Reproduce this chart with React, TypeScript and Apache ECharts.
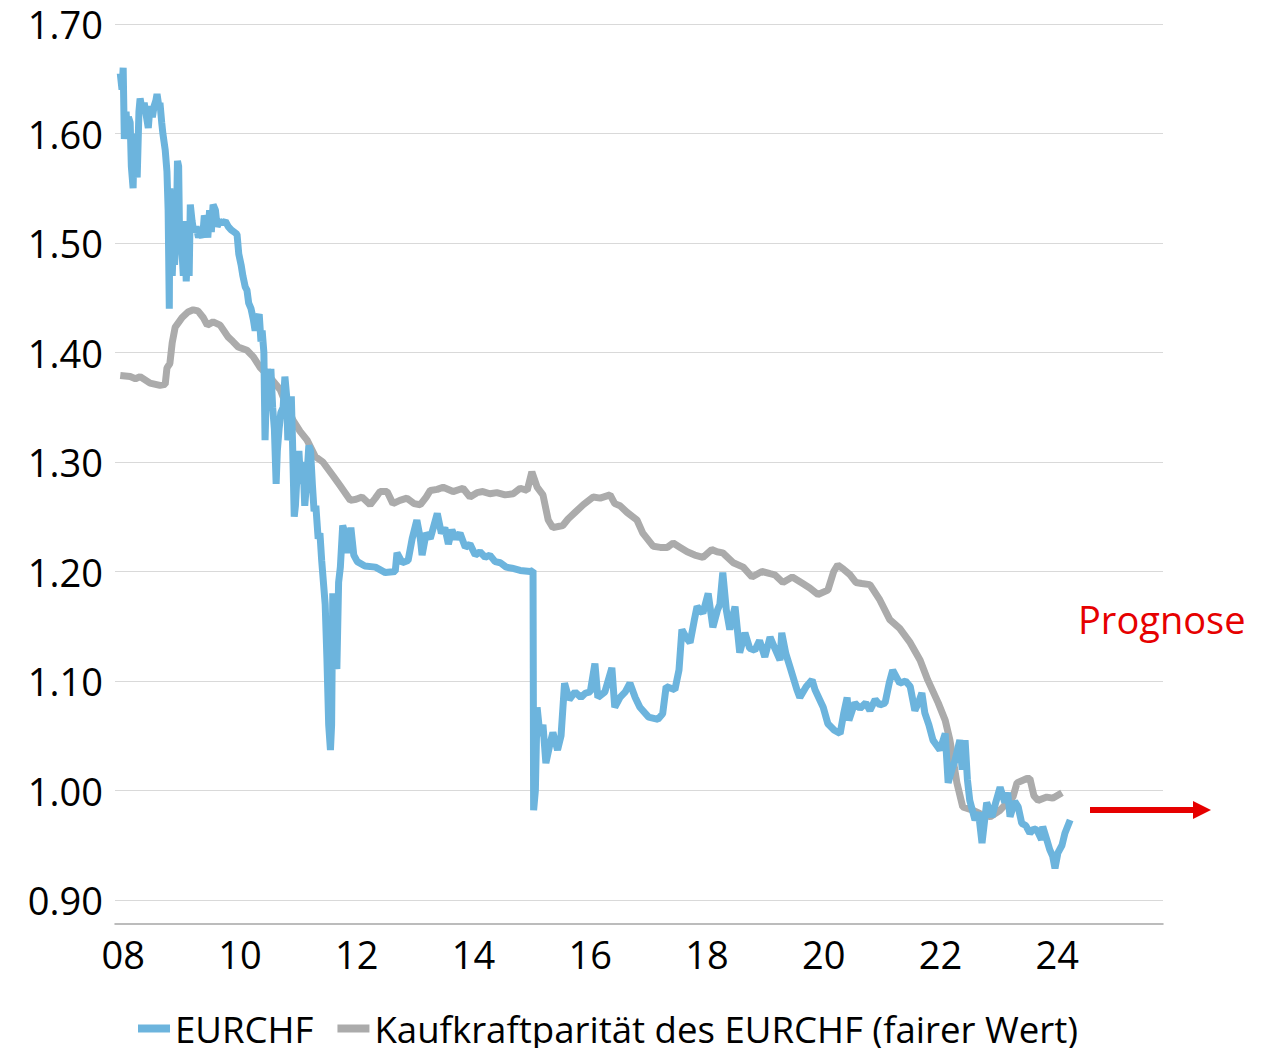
import React, { useEffect, useRef } from "react";
import * as echarts from "echarts";

// EURCHF (decimal year, rate)
const eurchf: [number, number][] = [
  [2007.95, 1.655], [2007.98, 1.64], [2008.0, 1.66], [2008.02, 1.595], [2008.05, 1.62], [2008.07, 1.6],
  [2008.09, 1.615], [2008.12, 1.61], [2008.14, 1.57], [2008.17, 1.55], [2008.19, 1.6], [2008.21, 1.575],
  [2008.24, 1.56], [2008.27, 1.62], [2008.29, 1.632], [2008.33, 1.62], [2008.36, 1.628], [2008.4, 1.615],
  [2008.43, 1.605], [2008.46, 1.625], [2008.5, 1.615], [2008.53, 1.625], [2008.56, 1.63], [2008.58, 1.636],
  [2008.61, 1.625], [2008.63, 1.628], [2008.66, 1.61], [2008.68, 1.6], [2008.72, 1.585], [2008.75, 1.565],
  [2008.77, 1.53], [2008.79, 1.44], [2008.8, 1.55], [2008.82, 1.52], [2008.84, 1.47], [2008.86, 1.5],
  [2008.88, 1.48], [2008.91, 1.51], [2008.93, 1.575], [2008.95, 1.57], [2008.97, 1.49], [2009.0, 1.5],
  [2009.03, 1.47], [2009.05, 1.52], [2009.08, 1.465], [2009.11, 1.5], [2009.13, 1.47], [2009.15, 1.535],
  [2009.18, 1.52], [2009.21, 1.51], [2009.25, 1.515], [2009.29, 1.505], [2009.32, 1.51], [2009.36, 1.505],
  [2009.39, 1.525], [2009.42, 1.52], [2009.45, 1.505], [2009.48, 1.53], [2009.51, 1.51], [2009.54, 1.535],
  [2009.58, 1.53], [2009.61, 1.515], [2009.65, 1.52], [2009.7, 1.518], [2009.75, 1.52], [2009.8, 1.515],
  [2009.85, 1.512], [2009.9, 1.51], [2009.95, 1.508], [2009.98, 1.49], [2010.02, 1.48], [2010.05, 1.47],
  [2010.09, 1.46], [2010.12, 1.457], [2010.15, 1.445], [2010.19, 1.44], [2010.23, 1.43], [2010.26, 1.42],
  [2010.3, 1.43], [2010.33, 1.435], [2010.36, 1.41], [2010.38, 1.42], [2010.41, 1.4], [2010.43, 1.32],
  [2010.45, 1.36], [2010.47, 1.385], [2010.5, 1.37], [2010.53, 1.385], [2010.56, 1.35], [2010.59, 1.33],
  [2010.62, 1.28], [2010.64, 1.31], [2010.67, 1.33], [2010.7, 1.345], [2010.74, 1.35], [2010.77, 1.378],
  [2010.8, 1.36], [2010.82, 1.32], [2010.85, 1.33], [2010.88, 1.36], [2010.9, 1.32], [2010.93, 1.25],
  [2010.95, 1.26], [2010.98, 1.29], [2011.01, 1.31], [2011.04, 1.28], [2011.08, 1.3], [2011.11, 1.26],
  [2011.14, 1.28], [2011.18, 1.315], [2011.21, 1.31], [2011.24, 1.28], [2011.27, 1.255], [2011.3, 1.26],
  [2011.34, 1.23], [2011.37, 1.235], [2011.4, 1.21], [2011.43, 1.19], [2011.46, 1.17], [2011.49, 1.12],
  [2011.52, 1.06], [2011.55, 1.037], [2011.57, 1.06], [2011.59, 1.18], [2011.61, 1.15], [2011.63, 1.12],
  [2011.66, 1.111], [2011.69, 1.19], [2011.72, 1.204], [2011.76, 1.242], [2011.8, 1.235], [2011.85, 1.217],
  [2011.9, 1.24], [2011.95, 1.215], [2012.01, 1.209], [2012.14, 1.205], [2012.32, 1.204], [2012.49, 1.199],
  [2012.66, 1.2], [2012.69, 1.217], [2012.78, 1.208], [2012.88, 1.21], [2012.95, 1.23], [2013.03, 1.247],
  [2013.09, 1.23], [2013.12, 1.215], [2013.19, 1.235], [2013.26, 1.23], [2013.38, 1.253], [2013.45, 1.235],
  [2013.51, 1.24], [2013.57, 1.225], [2013.63, 1.238], [2013.7, 1.23], [2013.77, 1.235], [2013.86, 1.222],
  [2013.94, 1.225], [2014.03, 1.215], [2014.11, 1.218], [2014.2, 1.213], [2014.28, 1.215], [2014.37, 1.209],
  [2014.46, 1.208], [2014.56, 1.204], [2014.66, 1.203], [2014.8, 1.201], [2014.97, 1.2], [2015.02, 1.201],
  [2015.03, 0.982], [2015.06, 1.0], [2015.09, 1.076], [2015.14, 1.05], [2015.19, 1.06], [2015.24, 1.025],
  [2015.3, 1.04], [2015.36, 1.053], [2015.44, 1.037], [2015.5, 1.05], [2015.56, 1.098], [2015.64, 1.083],
  [2015.74, 1.09], [2015.84, 1.085], [2015.92, 1.089], [2016.0, 1.09], [2016.08, 1.116], [2016.13, 1.085],
  [2016.25, 1.09], [2016.37, 1.112], [2016.42, 1.076], [2016.51, 1.085], [2016.6, 1.09], [2016.68, 1.098],
  [2016.77, 1.085], [2016.85, 1.076], [2017.0, 1.067], [2017.16, 1.065], [2017.24, 1.07], [2017.3, 1.095],
  [2017.45, 1.092], [2017.52, 1.11], [2017.57, 1.147], [2017.64, 1.14], [2017.71, 1.135], [2017.78, 1.155],
  [2017.83, 1.168], [2017.93, 1.162], [2018.02, 1.18], [2018.1, 1.149], [2018.18, 1.165], [2018.22, 1.17],
  [2018.27, 1.199], [2018.33, 1.165], [2018.39, 1.147], [2018.48, 1.168], [2018.56, 1.126], [2018.65, 1.144],
  [2018.73, 1.13], [2018.82, 1.128], [2018.9, 1.137], [2018.99, 1.122], [2019.08, 1.14], [2019.16, 1.13],
  [2019.25, 1.119], [2019.28, 1.144], [2019.35, 1.125], [2019.42, 1.113], [2019.54, 1.092], [2019.59, 1.085],
  [2019.7, 1.095], [2019.8, 1.101], [2019.85, 1.092], [2019.99, 1.076], [2020.07, 1.061], [2020.18, 1.055],
  [2020.28, 1.052], [2020.34, 1.07], [2020.4, 1.085], [2020.43, 1.064], [2020.53, 1.08], [2020.62, 1.075],
  [2020.72, 1.08], [2020.79, 1.073], [2020.88, 1.083], [2020.96, 1.078], [2021.05, 1.08], [2021.12, 1.098],
  [2021.18, 1.11], [2021.3, 1.098], [2021.4, 1.1], [2021.48, 1.095], [2021.56, 1.073], [2021.62, 1.08],
  [2021.68, 1.089], [2021.73, 1.071], [2021.8, 1.06], [2021.87, 1.046], [2021.99, 1.037], [2022.08, 1.052],
  [2022.13, 1.007], [2022.2, 1.02], [2022.25, 1.028], [2022.33, 1.046], [2022.37, 1.019], [2022.42, 1.046],
  [2022.46, 1.01], [2022.5, 0.991], [2022.59, 0.973], [2022.65, 0.98], [2022.71, 0.952], [2022.79, 0.989],
  [2022.88, 0.976], [2022.95, 0.99], [2023.02, 1.003], [2023.1, 0.989], [2023.15, 0.998], [2023.19, 0.976],
  [2023.27, 0.99], [2023.33, 0.985], [2023.39, 0.97], [2023.46, 0.968], [2023.53, 0.961], [2023.6, 0.965],
  [2023.65, 0.964], [2023.73, 0.955], [2023.75, 0.967], [2023.82, 0.955], [2023.87, 0.946], [2023.92, 0.94],
  [2023.96, 0.929], [2024.01, 0.943], [2024.08, 0.95], [2024.13, 0.961], [2024.22, 0.973],
];

// Kaufkraftparität (fairer Wert)
const ppp: [number, number][] = [
  [2007.95, 1.379], [2008.12, 1.378], [2008.21, 1.376], [2008.29, 1.378], [2008.46, 1.372], [2008.63, 1.37],
  [2008.72, 1.371], [2008.75, 1.386], [2008.8, 1.39], [2008.84, 1.409], [2008.89, 1.423], [2009.01, 1.432],
  [2009.11, 1.437], [2009.2, 1.439], [2009.28, 1.438], [2009.37, 1.432], [2009.44, 1.425], [2009.54, 1.428],
  [2009.66, 1.425], [2009.8, 1.414], [2009.88, 1.41], [2009.97, 1.405], [2010.12, 1.402], [2010.23, 1.396],
  [2010.35, 1.386], [2010.52, 1.377], [2010.69, 1.366], [2010.81, 1.35], [2010.91, 1.338], [2011.03, 1.328],
  [2011.15, 1.32], [2011.29, 1.305], [2011.42, 1.3], [2011.6, 1.287], [2011.72, 1.278], [2011.8, 1.272],
  [2011.89, 1.265], [2011.99, 1.266], [2012.09, 1.268], [2012.23, 1.261], [2012.32, 1.267], [2012.4, 1.273],
  [2012.52, 1.273], [2012.62, 1.262], [2012.74, 1.265], [2012.86, 1.267], [2012.98, 1.262], [2013.09, 1.261],
  [2013.19, 1.268], [2013.26, 1.274], [2013.38, 1.275], [2013.48, 1.277], [2013.65, 1.273], [2013.82, 1.276],
  [2013.94, 1.268], [2014.06, 1.272], [2014.16, 1.273], [2014.28, 1.271], [2014.4, 1.272], [2014.54, 1.27],
  [2014.68, 1.271], [2014.8, 1.276], [2014.92, 1.274], [2015.0, 1.291], [2015.09, 1.277], [2015.19, 1.27],
  [2015.28, 1.247], [2015.36, 1.24], [2015.53, 1.242], [2015.62, 1.248], [2015.74, 1.254], [2015.88, 1.261],
  [2016.05, 1.268], [2016.17, 1.267], [2016.34, 1.27], [2016.42, 1.262], [2016.51, 1.26], [2016.63, 1.254],
  [2016.8, 1.247], [2016.9, 1.235], [2017.08, 1.223], [2017.2, 1.222], [2017.32, 1.222], [2017.42, 1.226],
  [2017.54, 1.222], [2017.66, 1.218], [2017.79, 1.215], [2017.93, 1.213], [2018.08, 1.22], [2018.17, 1.218],
  [2018.27, 1.217], [2018.45, 1.208], [2018.62, 1.204], [2018.77, 1.195], [2018.94, 1.2], [2019.08, 1.198],
  [2019.16, 1.197], [2019.3, 1.19], [2019.46, 1.195], [2019.64, 1.189], [2019.76, 1.185], [2019.9, 1.179],
  [2020.07, 1.183], [2020.17, 1.2], [2020.24, 1.206], [2020.34, 1.202], [2020.45, 1.197], [2020.55, 1.19],
  [2020.65, 1.189], [2020.79, 1.188], [2020.96, 1.174], [2021.13, 1.156], [2021.3, 1.148], [2021.48, 1.135],
  [2021.65, 1.119], [2021.78, 1.101], [2021.96, 1.08], [2022.08, 1.064], [2022.16, 1.046], [2022.21, 1.03],
  [2022.28, 1.007], [2022.38, 0.985], [2022.55, 0.982], [2022.67, 0.979], [2022.85, 0.976], [2023.02, 0.982],
  [2023.14, 0.989], [2023.24, 0.994], [2023.31, 1.007], [2023.48, 1.011], [2023.53, 1.011], [2023.6, 0.995],
  [2023.67, 0.991], [2023.82, 0.994], [2023.92, 0.993], [2024.08, 0.998],
];

const yearTicks = [2008, 2010, 2012, 2014, 2016, 2018, 2020, 2022, 2024];
const seriesNames = ["EURCHF", "Kaufkraftparität des EURCHF (fairer Wert)"];
const annotationText = "Prognose";

const FONT = "'Open Sans', 'Noto Sans', sans-serif";
const BLUE = "#6cb4dd";
const GRAY = "#ababab";
const RED = "#e60000";

export default function App() {
  const ref = useRef<HTMLDivElement>(null);
  useEffect(() => {
    if (!ref.current) return;
    const chart = echarts.init(ref.current, undefined, { renderer: "svg" });
    chart.setOption({
      animation: false,
      backgroundColor: "#ffffff",
      textStyle: { fontFamily: FONT },
      grid: { left: 115, right: 111, top: 24, bottom: 148, containLabel: false },
      xAxis: {
        type: "value",
        min: 2007.86,
        max: 2025.81,
        offset: 24,
        axisLine: { show: true, lineStyle: { color: "#a6a6a6", width: 1.5 } },
        axisTick: { show: false },
        splitLine: { show: false },
        axisLabel: {
          customValues: yearTicks,
          formatter: (v: number) => String(Math.round(v)).slice(2),
          color: "#000",
          fontSize: 38,
          lineHeight: 40,
          fontFamily: FONT,
          margin: 10,
        },
      },
      yAxis: {
        type: "value",
        min: 0.9,
        max: 1.7,
        interval: 0.1,
        axisLine: { show: false },
        axisTick: { show: false },
        splitLine: { show: true, lineStyle: { color: "#d9d9d9", width: 1 } },
        axisLabel: {
          formatter: (v: number) => v.toFixed(2),
          color: "#000",
          fontSize: 38,
          lineHeight: 34,
          fontFamily: FONT,
          margin: 12,
        },
      },
      legend: {
        left: 138,
        top: 1010,
        padding: 0,
        itemWidth: 32,
        itemHeight: 8,
        itemGap: 24,
        icon: "rect",
        textStyle: { fontSize: 36.6, color: "#000", fontFamily: FONT, lineHeight: 34 },
        data: seriesNames,
      },
      series: [
        {
          name: seriesNames[0],
          type: "line",
          data: eurchf,
          showSymbol: false,
          z: 3,
          lineStyle: { color: BLUE, width: 7 },
          itemStyle: { color: BLUE },
        },
        {
          name: seriesNames[1],
          type: "line",
          data: ppp,
          showSymbol: false,
          z: 2,
          lineStyle: { color: GRAY, width: 7 },
          itemStyle: { color: GRAY },
        },
      ],
      graphic: [
        {
          type: "text",
          left: 1078,
          top: 600,
          style: { text: annotationText, fill: RED, fontSize: 38, fontFamily: FONT },
        },
        {
          type: "line",
          shape: { x1: 1090, y1: 810, x2: 1196, y2: 810 },
          style: { stroke: RED, lineWidth: 6 },
        },
        {
          type: "polygon",
          shape: { points: [[1193, 801], [1211, 810], [1193, 819]] },
          style: { fill: RED },
        },
      ],
    });
    return () => chart.dispose();
  }, []);
  return <div ref={ref} style={{ width: 1274, height: 1048, position: "absolute", left: 0, top: 0 }} />;
}
